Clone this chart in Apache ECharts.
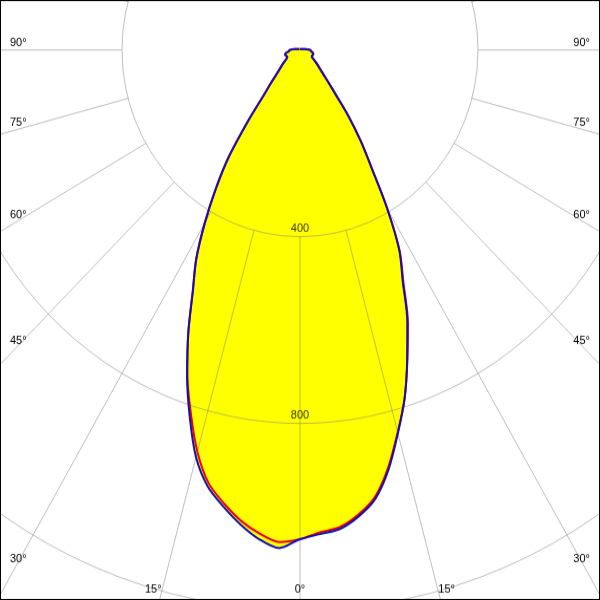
<!DOCTYPE html>
<html>
<head>
<meta charset="utf-8">
<script src="https://cdn.jsdelivr.net/npm/echarts@6/dist/echarts.min.js"></script>
<style>
html,body{margin:0;padding:0;background:#fff;}
#wrap{width:600px;height:600px;overflow:hidden;position:relative;}
#main{width:600px;height:572px;transform-origin:0 0;}
</style>
</head>
<body>
<div id="wrap"><div id="main"></div></div>
<script>
// ---- data (cd/klm) ----
const angles = [0,2.5,5,7.5,10,12.5,15,17.5,20,22.5,25,27.5,30,32.5,35,37.5,40,42.5,45,47.5,50,52.5,55,57.5,60,62.5,65,67.5,70,72.5,75,77.5,80,82.5,85,87.5,90,100,120,150,180];
// red curve (C0 right half, C180 left half)
const c0   = [1048,1034,1026,1004,972,916,848,782,706,634,550,485,392,300,238,180,126,96,76,63,54,47,41,36,31,30,30,30,31,31,31,30,28,26,25,24,23,12,4,2.5,2];
const c180 = [1048,1055,1040,1017,986,950,891,816,740,656,570,505,428,352,278,192,128,98,77,64,55,48,42,37,34,32,32,33,34,35,35,33,30,27,25,24,23,12,4,2.5,2];
// blue curve (C90 right half, C270 left half)
const c90  = [1048,1038,1030,1008,976,920,850,782,704,630,546,483,392,300,238,180,126,96,76,63,54,47,41,36,31,30,30,30,31,31,31,30,28,26,25,24,23,12,4,2.5,2];
const c270 = [1048,1068,1052,1025,993,958,903,824,742,656,570,505,428,352,278,192,128,98,77,64,55,48,42,37,34,32,32,33,34,35,35,33,30,27,25,24,23,12,4,2.5,2];
const radialTicks = [400, 800];
const angleLabelSide = [90, 75, 60, 45, 30];
const angleLabelBottom = [0, 15];

// ---- layout ----
const K = 600 / 572;           // vertical stretch of the original diagram
const CX = 300, CY = 50 / K;   // pole (pre-stretch)
const PX_PER_UNIT = 178 / 400;
const RMAX = 1600;
const SMOOTH = 0.3;

function curve(right, left) {
  const pts = [];
  for (let i = angles.length - 1; i >= 0; i--) pts.push([right[i], -angles[i]]);
  for (let i = 1; i < angles.length; i++) pts.push([left[i], angles[i]]);
  return pts;
}
const redPts = curve(c0, c180);
const bluePts = curve(c90, c270);

const gridColor = 'rgba(128,128,128,0.5)';
const font = '"Liberation Sans", Arial, sans-serif';

// angle labels (computed along the radial lines, in post-stretch coords then unstretched)
const graphics = [];
angleLabelSide.forEach(a => {
  const r = a * Math.PI / 180;
  const yPost = 50 + 282 * K * Math.cos(r) / Math.sin(r) - 7 * Math.sin(r);
  [['left', 10], ['right', 590]].forEach(([al, x]) => {
    graphics.push({type: 'text', z: 20, x: x, y: yPost / K,
      style: {text: a + '°', fill: '#000', font: '11px ' + font, align: al, verticalAlign: 'middle'}});
  });
});
angleLabelBottom.forEach(a => {
  const r = a * Math.PI / 180;
  const off = 539 * Math.tan(r) / K + (a > 0 ? 9 : 0);
  const xs = a === 0 ? [300] : [300 - off, 300 + off];
  xs.forEach(x => graphics.push({type: 'text', z: 20, x: x, y: 589 / K,
    style: {text: a + '°', fill: '#000', font: '11px ' + font, align: 'center', verticalAlign: 'middle'}}));
});
graphics.push({type: 'rect', z: 30, shape: {x: 0, y: 0, width: 600, height: 572},
  style: {fill: 'none', stroke: '#000', lineWidth: 2}});

const chart = echarts.init(document.getElementById('main'), null, {renderer: 'canvas'});
chart.setOption({
  animation: false,
  backgroundColor: '#fff',
  polar: [
    {center: [CX, CY], radius: [400 * PX_PER_UNIT, RMAX * PX_PER_UNIT]},
    {center: [CX, CY], radius: RMAX * PX_PER_UNIT}
  ],
  radiusAxis: [
    {polarIndex: 0, type: 'value', min: 400, max: RMAX, interval: 400, z: 3,
     axisLine: {show: false}, axisTick: {show: false}, axisLabel: {show: false},
     splitLine: {show: true, lineStyle: {color: gridColor, width: 1}}},
    {polarIndex: 1, type: 'value', min: 0, max: RMAX, show: false}
  ],
  angleAxis: [
    {polarIndex: 0, type: 'value', min: 0, max: 360, interval: 15, startAngle: 270, z: 3,
     axisLine: {show: false}, axisTick: {show: false}, axisLabel: {show: false},
     splitLine: {show: true, lineStyle: {color: gridColor, width: 1}}},
    {polarIndex: 1, type: 'value', min: -180, max: 180, startAngle: 90, clockwise: true, show: false}
  ],
  graphic: graphics,
  series: [
    {type: 'line', coordinateSystem: 'polar', polarIndex: 1, data: redPts, symbol: 'none', z: 1, smooth: SMOOTH,
     lineStyle: {width: 0, opacity: 0}, areaStyle: {color: '#ffff00', opacity: 1}},
    {type: 'line', coordinateSystem: 'polar', polarIndex: 1, data: bluePts, symbol: 'none', z: 1, smooth: SMOOTH,
     lineStyle: {width: 0, opacity: 0}, areaStyle: {color: '#ffff00', opacity: 1}},
    {type: 'line', coordinateSystem: 'polar', polarIndex: 1, data: redPts, symbol: 'none', z: 5, smooth: SMOOTH,
     lineStyle: {width: 2, color: '#ee0000'}},
    {type: 'line', coordinateSystem: 'polar', polarIndex: 1, data: bluePts, symbol: 'none', z: 6, smooth: SMOOTH,
     lineStyle: {width: 2, color: '#1010bb'}},
    {type: 'scatter', coordinateSystem: 'polar', polarIndex: 1, z: 7, symbolSize: 0,
     data: radialTicks.map(v => [v, 0]),
     label: {show: true, position: 'top', distance: 2, color: '#000', fontSize: 11, fontFamily: font,
       formatter: p => String(p.value[0])}}
  ]
});
document.getElementById('main').style.transform = 'scaleY(' + K + ')';
</script>
</body>
</html>
